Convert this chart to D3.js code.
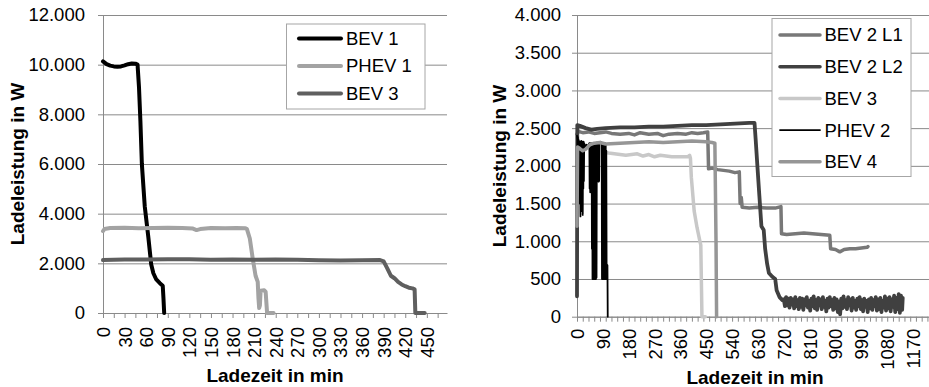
<!DOCTYPE html>
<html><head><meta charset="utf-8">
<script src="https://cdn.jsdelivr.net/npm/d3@7"></script>
<style>
body{margin:0;background:#fff}
svg{display:block}
text{font-family:"Liberation Sans",Arial,sans-serif;fill:#000}
</style>
</head><body>
<svg id="c" width="929" height="387"></svg>
<script>
// ---------- Left chart data ----------
const leftSeriesNames = ["BEV 1", "PHEV 1", "BEV 3"];
const leftXLabels = [0,30,60,90,120,150,180,210,240,270,300,330,360,390,420,450];
const leftYTicks = [0,2000,4000,6000,8000,10000,12000];

const bev1T = [0,5,10,15,20,25,30,35,40,45,48,50,52,54,58,63,67,70,74,79,83,84,85];
const bev1W = [10130,10020,9960,9930,9920,9930,9970,10020,10050,10040,10000,9100,7700,6000,4300,3050,1950,1600,1350,1200,1100,600,0];

const phev1T = [0,2,10,30,50,70,90,110,125,130,135,150,170,185,198,200,204,208,212,215,216,217,218,219,224,226,228,237];
const phev1W = [3300,3380,3420,3430,3410,3420,3430,3420,3400,3340,3380,3420,3410,3420,3410,3380,3000,2200,1500,1250,600,200,300,900,920,850,0,0];

const bev3LT = [0,30,60,90,120,150,180,210,240,270,300,330,360,385,390,395,400,405,410,415,420,425,430,433,434,447];
const bev3LW = [2130,2150,2150,2160,2160,2140,2150,2140,2150,2140,2120,2110,2120,2130,2080,1800,1500,1400,1250,1150,1080,1020,990,950,0,0];

// ---------- Right chart data ----------
const rightSeriesNames = ["BEV 2 L1", "BEV 2 L2", "BEV 3", "PHEV 2", "BEV 4"];
const rightXLabels = [0,90,180,270,360,450,540,630,720,810,900,990,1080,1170];
const rightYTicks = [0,500,1000,1500,2000,2500,3000,3500,4000];

const bev2l1T = [0,5,10,20,40,60,80,100,120,150,180,200,220,250,280,300,320,350,380,400,420,440,455,458,470,490,510,530,550,565,568,572,575,600,630,660,690,710,712,730,760,790,820,850,880,883,900,915,930,950,970,990,1010,1013];
const bev2l1W = [2420,2460,2450,2440,2450,2430,2440,2450,2430,2420,2430,2410,2440,2420,2430,2400,2420,2430,2420,2440,2430,2440,2450,1960,1970,1950,1940,1930,1910,1920,1500,1580,1450,1440,1450,1440,1440,1460,1100,1090,1100,1110,1100,1090,1080,900,890,860,890,900,900,910,920,930];

const bev2l2T = [0,1,10,30,50,70,100,150,200,250,300,350,400,450,500,550,600,618,622,628,635,642,650,655,662,668,680,690,695,705,715,
  720,724,728,732,736,740,744,748,752,756,760,764,768,772,776,780,784,788,792,796,800,804,808,812,816,820,824,828,832,836,840,844,848,852,856,860,864,868,872,876,880,884,888,892,896,900,904,908,912,916,920,924,928,932,936,940,944,948,952,956,960,964,968,972,976,980,984,988,992,996,1000,1004,1008,1012,1016,1020,1024,1028,1032,1036,1040,1044,1048,1052,1056,1060,1064,1068,1072,1076,1080,1084,1088,1092,1096,1100,1104,1108,1112,1116,1120,1124,1128,1132,1134];
const bev2l2W = [270,2540,2530,2500,2480,2490,2500,2510,2510,2520,2520,2530,2540,2540,2550,2560,2570,2570,2350,2000,1600,1200,1150,900,700,580,530,500,350,260,220,
  230,140,260,150,240,120,250,160,230,110,260,140,220,100,250,130,240,90,230,150,260,120,210,80,240,140,270,110,220,90,250,150,230,100,260,130,210,70,240,120,260,140,220,90,250,110,230,60,200,30,240,110,270,130,220,100,260,150,230,80,250,120,210,90,240,140,260,100,220,70,240,130,210,60,230,110,250,90,220,140,260,80,230,100,250,60,210,120,270,80,240,110,260,70,230,130,280,60,250,100,300,50,280,90,250];

const bev3RT = [95,110,130,150,170,190,210,230,250,270,290,310,330,350,370,385,392,395,398,408,418,428,431,435,447];
const bev3RW = [2180,2170,2160,2150,2140,2150,2160,2130,2150,2120,2140,2130,2120,2120,2120,2120,2140,2100,1850,1400,1180,1000,950,0,0];

const phev2T = [0,1,2,3,4,5,6,7,8,9,10,11,12,13,14,15,16,17,18,19,20,21,22,23,24,25,26,28,30,33,36,40,43,44,45,46,47,48,49,50,51,52,53,54,55,56,57,58,59,60,61,62,63,64,65,66,67,68,69,70,72,74,75,76,77,78,80,83,86,87,88,89,90,91,92,93,94,95,96,97,98,99,100,101,102,103,104,106,107];
const phev2W = [2400,2350,1700,2380,1650,2350,1800,2330,1700,2300,1500,2320,1330,2300,1650,2330,1400,2300,1700,2320,1350,2300,1700,2320,1800,2300,2280,2250,2270,2280,2250,2280,2300,1700,2300,1650,2290,1800,2300,1660,2290,900,2300,500,2280,600,2300,500,2290,700,2300,500,2300,550,2300,500,2290,520,2300,2310,2300,2300,1790,2300,1800,2310,2300,2320,2300,500,2300,600,2290,500,2300,800,2300,500,2290,700,2300,500,2280,500,2200,700,690,680,0];

const bev4T = [0,2,10,20,30,45,60,80,100,150,200,250,300,350,400,450,470,480,484,486];
const bev4W = [1200,2250,2230,2200,2220,2280,2300,2310,2290,2300,2310,2320,2310,2320,2330,2320,2310,2300,1000,0];

// ---------- Drawing ----------
const svg = d3.select("#c");
const de = d3.formatLocale({decimal: ",", thousands: ".", grouping: [3], currency: ["", "€"]});
const fmt = de.format(",");
const GRID = "#8a8a8a";

function zip(t, w){ return t.map((v,i)=>[v, w[i]]); }

function drawChart(cfg){
  const x = d3.scaleLinear().domain([0, cfg.xMax]).range([cfg.left, cfg.right]);
  const y = d3.scaleLinear().domain([0, cfg.yMax]).range([cfg.bottom, cfg.top]);
  const g = svg.append("g");

  const ya = g.append("g").attr("transform", `translate(${cfg.left},0)`)
    .call(d3.axisLeft(y).tickValues(cfg.yTicks).tickFormat(fmt)
      .tickSizeInner(-(cfg.gridRight - cfg.left)).tickSizeOuter(0).tickPadding(cfg.yPad));
  ya.select(".domain").attr("stroke", GRID);
  ya.selectAll(".tick line").attr("stroke", GRID).attr("x1", -5);
  ya.selectAll(".tick text").style("font-size", "18.5px").style("font-family", "Liberation Sans, Arial, sans-serif").attr("fill", "#000");

  const xt = g.append("g").attr("transform", `translate(0,${cfg.bottom})`)
    .call(d3.axisBottom(x).tickValues(d3.range(0, cfg.xMax + 0.1, cfg.tickStep)).tickFormat("").tickSizeInner(5).tickSizeOuter(0));
  xt.select(".domain").attr("stroke", GRID);
  xt.selectAll(".tick line").attr("stroke", GRID);

  const xl = g.append("g").attr("transform", `translate(0,${cfg.bottom})`)
    .call(d3.axisBottom(x).tickValues(cfg.xLabels).tickFormat(d => d).tickSize(0));
  xl.select(".domain").remove();
  xl.selectAll(".tick text")
    .attr("transform", "rotate(-90)")
    .attr("x", -cfg.xPad).attr("y", 0).attr("dy", "0.35em")
    .style("text-anchor", "end").style("font-size", "18.5px")
    .style("font-family", "Liberation Sans, Arial, sans-serif").attr("fill", "#000");

  const line = d3.line().x(d => x(d[0])).y(d => y(d[1]));
  cfg.series.forEach(s => {
    g.append("path").datum(zip(s.t, s.w))
      .attr("fill", "none").attr("stroke", s.color).attr("stroke-width", s.width)
      .attr("stroke-linejoin", "round").attr("stroke-linecap", "round")
      .attr("d", line);
  });

  g.append("text").attr("x", cfg.xTitleX).attr("y", cfg.xTitleY)
    .attr("text-anchor", "middle").style("font-size", "19px").style("font-weight", "bold")
    .text("Ladezeit in min");
  g.append("text").attr("transform", `translate(${cfg.yTitleX},${cfg.yTitleY}) rotate(-90)`)
    .attr("text-anchor", "middle").style("font-size", "19px").style("font-weight", "bold")
    .text("Ladeleistung in W");

  const L = cfg.legend;
  const lg = g.append("g");
  lg.append("rect").attr("x", L.x).attr("y", L.y).attr("width", L.w).attr("height", L.h)
    .attr("fill", "#fff").attr("stroke", "#a6a6a6").attr("stroke-width", 1);
  cfg.series.forEach((s, i) => {
    const yy = L.y0 + i * L.dy;
    lg.append("line").attr("x1", L.lx1).attr("x2", L.lx2).attr("y1", yy).attr("y2", yy)
      .attr("stroke", s.color).attr("stroke-width", s.legendWidth || s.width).attr("stroke-linecap", "round");
    lg.append("text").attr("x", L.tx).attr("y", yy).attr("dy", "0.35em")
      .style("font-size", "18.5px").text(s.name);
  });
}

drawChart({
  left: 103, right: 447, gridRight: 447, top: 15, bottom: 313,
  xMax: 478, yMax: 12000, yTicks: leftYTicks, xLabels: leftXLabels, tickStep: 15,
  yPad: 18, xPad: 14,
  xTitleX: 275, xTitleY: 381.5, yTitleX: 24, yTitleY: 164,
  series: [
    {name: leftSeriesNames[0], t: bev1T, w: bev1W, color: "#000000", width: 4},
    {name: leftSeriesNames[1], t: phev1T, w: phev1W, color: "#a3a3a3", width: 4},
    {name: leftSeriesNames[2], t: bev3LT, w: bev3LW, color: "#5f5f5f", width: 4}
  ],
  legend: {x: 286.5, y: 24, w: 138.5, h: 85, y0: 38.5, dy: 27.5, lx1: 299, lx2: 341, tx: 346}
});

drawChart({
  left: 577, right: 928, gridRight: 929, top: 15, bottom: 316.7,
  xMax: 1222, yMax: 4000, yTicks: rightYTicks, xLabels: rightXLabels, tickStep: 20,
  yPad: 16, xPad: 12,
  xTitleX: 755, xTitleY: 383.5, yTitleX: 506, yTitleY: 166,
  series: [
    {name: rightSeriesNames[0], t: bev2l1T, w: bev2l1W, color: "#787878", width: 3.5},
    {name: rightSeriesNames[1], t: bev2l2T, w: bev2l2W, color: "#404040", width: 3.8, legendWidth: 3.5},
    {name: rightSeriesNames[2], t: bev3RT, w: bev3RW, color: "#c8c8c8", width: 3.5},
    {name: rightSeriesNames[3], t: phev2T, w: phev2W, color: "#000000", width: 1.8},
    {name: rightSeriesNames[4], t: bev4T, w: bev4W, color: "#969696", width: 3.5}
  ],
  legend: {x: 772, y: 18.5, w: 139, h: 158, y0: 35, dy: 31.7, lx1: 780, lx2: 820, tx: 824.5}
});
</script>
</body></html>
